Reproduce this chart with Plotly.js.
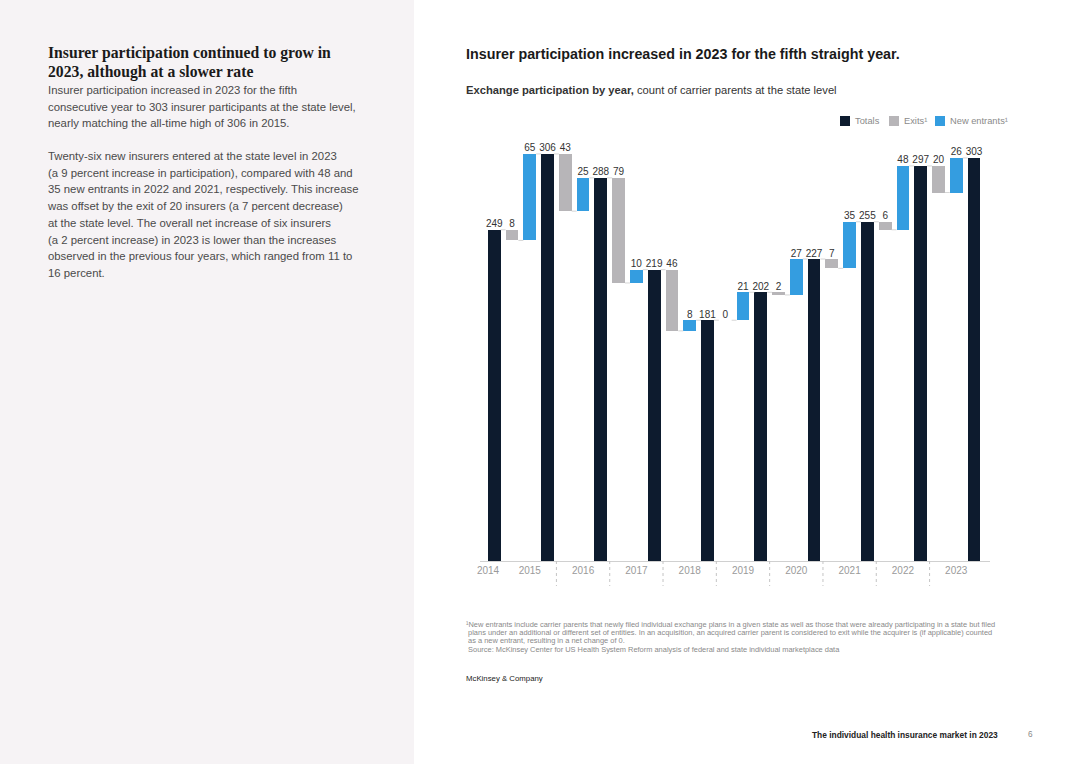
<!DOCTYPE html>
<html>
<head>
<meta charset="utf-8">
<script src="https://cdn.plot.ly/plotly-3.0.1.min.js"></script>
<style>
  html, body { margin:0; padding:0; width:1080px; height:764px; overflow:hidden; background:#ffffff; font-family:"Liberation Sans", Arial, sans-serif; }
  #left { position:absolute; left:0; top:0; width:414px; height:764px; background:#f6f3f5; }
  #ltitle { position:absolute; left:48px; top:43px; font-family:"Liberation Serif", "DejaVu Serif", serif; font-weight:bold; font-size:15.7px; line-height:19px; color:#1a1a1a; }
  .lbody { position:absolute; left:48px; font-size:11.35px; line-height:16.7px; color:#4a4a4a; }
  #ctitle { position:absolute; left:466px; top:46px; font-size:14.3px; font-weight:bold; color:#1a1a1a; }
  #csub { position:absolute; left:466px; top:84px; font-size:11.2px; color:#333; }
  #foot { position:absolute; left:466px; top:621px; font-size:7.45px; line-height:8.2px; color:#8a8a8a; white-space:nowrap; }
  #mck { position:absolute; left:466px; top:674px; font-size:7.8px; color:#222; }
  #pfoot { position:absolute; left:812px; top:730px; font-size:8.4px; font-weight:bold; color:#222; }
  #pnum { position:absolute; left:1028px; top:730px; font-size:8.2px; color:#888; }
  #chart { position:absolute; left:415px; top:0; width:665px; height:764px; }
</style>
</head>
<body>
<div id="left"></div>
<div id="ltitle">Insurer participation continued to grow in<br>2023, although at a slower rate</div>
<div class="lbody" style="top:82px;">Insurer participation increased in 2023 for the fifth<br>consecutive year to 303 insurer participants at the state level,<br>nearly matching the all-time high of 306 in 2015.</div>
<div class="lbody" style="top:148px;">Twenty-six new insurers entered at the state level in 2023<br>(a 9 percent increase in participation), compared with 48 and<br>35 new entrants in 2022 and 2021, respectively. This increase<br>was offset by the exit of 20 insurers (a 7 percent decrease)<br>at the state level. The overall net increase of six insurers<br>(a 2 percent increase) in 2023 is lower than the increases<br>observed in the previous four years, which ranged from 11 to<br>16 percent.</div>
<div id="ctitle">Insurer participation increased in 2023 for the fifth straight year.</div>
<div id="csub"><b>Exchange participation by year,</b> count of carrier parents at the state level</div>
<div id="chart"></div>
<div id="foot">¹New entrants include carrier parents that newly filed individual exchange plans in a given state as well as those that were already participating in a state but filed<br>&nbsp;plans under an additional or different set of entities. In an acquisition, an acquired carrier parent is considered to exit while the acquirer is (if applicable) counted<br>&nbsp;as a new entrant, resulting in a net change of 0.<br>&nbsp;Source: McKinsey Center for US Health System Reform analysis of federal and state individual marketplace data</div>
<div id="mck">McKinsey &amp; Company</div>
<div id="pfoot">The individual health insurance market in 2023</div>
<div id="pnum">6</div>
<script>
// ---- data ----
var years = ['2014','2015','2016','2017','2018','2019','2020','2021','2022','2023'];
var totals = [249, 306, 288, 219, 181, 202, 227, 255, 297, 303];
var exits = [8, 43, 79, 46, 0, 2, 7, 6, 20];        // 2015..2023
var entrants = [65, 25, 10, 8, 21, 27, 35, 48, 26]; // 2015..2023
var seriesNames = ['Totals', 'Exits¹', 'New entrants¹'];
var seriesColors = ['#0d1b2e', '#b7b5b8', '#349de0'];

// ---- build positions ----
var W = 0.72;
var totX = [], exX = [], exBase = [], enX = [], enBase = [];
for (var i = 0; i < totals.length; i++) totX.push(i * 3);
for (var k = 0; k < exits.length; k++) {
  exX.push(3 * (k + 1) - 2);
  enX.push(3 * (k + 1) - 1);
  exBase.push(totals[k] - exits[k]);
  enBase.push(totals[k] - exits[k]);
}

// labels
var lx = [], ly = [], lt = [];
for (var i = 0; i < totals.length; i++) { lx.push(totX[i]); ly.push(totals[i]); lt.push(String(totals[i])); }
for (var k = 0; k < exits.length; k++) {
  lx.push(exX[k]); ly.push(totals[k]); lt.push(String(exits[k]));
  lx.push(enX[k]); ly.push(enBase[k] + entrants[k]); lt.push(String(entrants[k]));
}

// connectors
var cx = [], cy = [];
function seg(xa, xb, yv) { cx.push(xa + W / 2, xb - W / 2, null); cy.push(yv, yv, null); }
for (var k = 0; k < exits.length; k++) {
  seg(totX[k], exX[k], totals[k]);
  seg(exX[k], enX[k], totals[k] - exits[k]);
  seg(enX[k], totX[k + 1], totals[k + 1]);
}

// tick positions
var tickv = [-0.35];
for (var k = 0; k < exits.length; k++) tickv.push(enX[k]);

// separators
var shapes = [];
for (var k = 1; k < exits.length; k++) {
  var sx = (totX[k] + exX[k]) / 2;
  shapes.push({type:'line', xref:'x', yref:'paper', x0:sx, x1:sx, y0:0, y1:-0.058,
    line:{color:'#c4c4c4', width:1, dash:'dot'}});
}

// legend (drawn as paper-positioned swatches + labels)
var plotL = 480, plotW = 510, plotT = 130, plotH = 431;
function px2x(p) { return (p - plotL) / plotW; }
function py2y(p) { return (plotT + plotH - p) / plotH; }
var legStarts = [840, 889, 935];
var annotations = [];
for (var s = 0; s < 3; s++) {
  shapes.push({type:'rect', xref:'paper', yref:'paper', x0:px2x(legStarts[s]), x1:px2x(legStarts[s] + 10),
    y0:py2y(126), y1:py2y(116), fillcolor:seriesColors[s], line:{width:0}});
  annotations.push({xref:'paper', yref:'paper', x:px2x(legStarts[s] + 12.5), y:py2y(121), xanchor:'left', yanchor:'middle',
    text:seriesNames[s], showarrow:false, font:{size:9.3, color:'#8a8a8a'}});
}

var fontFam = '"Liberation Sans", Arial, sans-serif';
var traces = [
  {type:'bar', name:seriesNames[0], x:totX, y:totals, width:W, marker:{color:seriesColors[0]}, hoverinfo:'skip', showlegend:false},
  {type:'bar', name:seriesNames[1], x:exX, y:exits, base:exBase, width:W, marker:{color:seriesColors[1]}, hoverinfo:'skip', showlegend:false},
  {type:'bar', name:seriesNames[2], x:enX, y:entrants, base:enBase, width:W, marker:{color:seriesColors[2]}, hoverinfo:'skip', showlegend:false},
  {type:'scatter', mode:'lines', x:cx, y:cy, line:{color:'#d6d6d6', width:1}, showlegend:false, hoverinfo:'skip'},
  {type:'scatter', mode:'text', x:lx, y:ly, text:lt, textposition:'top center',
   textfont:{size:10, color:'#333', family:fontFam}, showlegend:false, hoverinfo:'skip', cliponaxis:false}
];

var layout = {
  width:665, height:764,
  margin:{l:65, r:90, t:130, b:203},
  paper_bgcolor:'rgba(0,0,0,0)', plot_bgcolor:'rgba(0,0,0,0)',
  barmode:'overlay', bargap:0,
  font:{family:fontFam},
  showlegend:false,
  xaxis:{range:[-0.8, 27.9], showgrid:false, zeroline:false, showline:true, linecolor:'#d0d0d0', linewidth:1,
    tickmode:'array', tickvals:tickv, ticktext:years, ticks:'', tickfont:{size:10, color:'#9a9a9a'}},
  yaxis:{range:[0, 324], showgrid:false, zeroline:false, showline:false, showticklabels:false, ticks:''},
  shapes:shapes,
  annotations:annotations
};
Plotly.newPlot('chart', traces, layout, {displayModeBar:false, staticPlot:true});
</script>
</body>
</html>
